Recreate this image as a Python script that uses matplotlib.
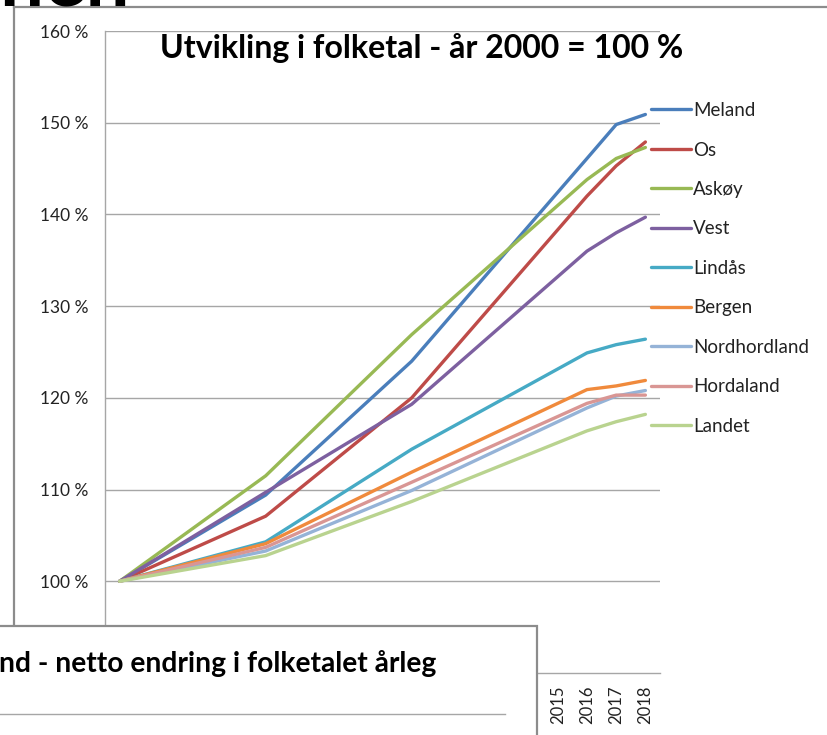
import matplotlib
matplotlib.use("Agg")
import matplotlib.pyplot as plt
from matplotlib.patches import Rectangle
from matplotlib.lines import Line2D

# ---------------- data ----------------
years = [2000, 2005, 2010, 2016, 2017, 2018]
series_names = ["Meland", "Os", "Askøy", "Vest", "Lindås", "Bergen",
                "Nordhordland", "Hordaland", "Landet"]
meland = [100, 109.4, 124.0, 146.1, 149.8, 150.9]
os_ = [100, 107.1, 120.0, 142.0, 145.3, 147.9]
askoy = [100, 111.5, 126.9, 143.8, 146.1, 147.3]
vest = [100, 109.7, 119.3, 136.0, 138.0, 139.7]
lindas = [100, 104.3, 114.4, 124.9, 125.8, 126.4]
bergen = [100, 104.1, 111.9, 120.9, 121.3, 121.9]
nordhordland = [100, 103.3, 109.9, 118.9, 120.2, 120.8]
hordaland = [100, 103.7, 110.8, 119.4, 120.3, 120.3]
landet = [100, 102.8, 108.7, 116.4, 117.4, 118.2]
series_values = [meland, os_, askoy, vest, lindas, bergen,
                 nordhordland, hordaland, landet]
all_years = list(range(2000, 2019))
y_ticks = [100, 110, 120, 130, 140, 150, 160]

title_top = "Utvikling i folketal - år 2000 = 100 %"
title_bottom_hidden = "Mela"
title_bottom = "nd - netto endring i folketalet årleg"
heading_fragment = "Regionen"

colors = ["#4A7EBB", "#BE4B48", "#98B954", "#7D60A0", "#46AAC5",
          "#F08A3C", "#95B3D7", "#D99694", "#B9D38F"]

W, H = 827, 735
fig = plt.figure(figsize=(W / 100, H / 100), dpi=100)
fig.patch.set_facecolor("white")


def fx(px):
    return px / W


def fy(py):
    return 1 - py / H


FONT = ["Lato", "DejaVu Sans"]
GRID = "#A6A6A6"
FRAME = "#8C8C8C"

# outer frame of the upper chart (left + top edges)
fig.add_artist(Line2D([fx(14), fx(14)], [fy(7), fy(640)], color=FRAME, lw=1.6, zorder=1))
fig.add_artist(Line2D([fx(14), fx(830)], [fy(7), fy(7)], color=FRAME, lw=1.6, zorder=1))

# big heading, mostly cut off at the top
fig.text(fx(130), fy(6), heading_fragment, ha="right", va="baseline",
         fontsize=56, fontweight="bold", family=FONT, color="black", zorder=2)

# ---------------- upper chart ----------------
ax = fig.add_axes([fx(105), fy(673), fx(660) - fx(105), fy(31) - fy(673)], zorder=2)
ax.set_facecolor("none")
for name, vals, c in zip(series_names, series_values, colors):
    ax.plot(years, vals, color=c, lw=2.4, label=name, solid_capstyle="round",
            solid_joinstyle="round")

ax.set_xlim(1999.5, 2018.5)
ax.set_ylim(90, 160)
ax.set_yticks(y_ticks)
ax.set_yticklabels([f"{v} %" for v in y_ticks], family=FONT, fontsize=12.5, color="#222222")
ax.set_xticks(all_years)
ax.set_xticklabels([str(y) for y in all_years], rotation=90, family=FONT,
                   fontsize=12, color="#222222")
ax.tick_params(axis="y", length=0, pad=12)
ax.tick_params(axis="x", length=0, pad=9)
for yv in y_ticks:
    ax.axhline(yv, color=GRID, lw=1.0, zorder=0)
for s in ["top", "right"]:
    ax.spines[s].set_visible(False)
ax.spines["left"].set_color(GRID)
ax.spines["bottom"].set_color(GRID)
ax.spines["left"].set_linewidth(1.0)
ax.spines["bottom"].set_linewidth(1.0)

leg = ax.legend(loc="upper left", bbox_to_anchor=(fx(651), fy(102)),
                bbox_transform=fig.transFigure, frameon=False,
                prop={"family": FONT, "size": 13.5}, handlelength=2.13,
                handletextpad=0.1, labelspacing=1.2, borderpad=0,
                borderaxespad=0)
for t in leg.get_texts():
    t.set_color("#222222")

# title of the upper chart, width fitted to the reference
t1 = fig.text(fx(422), fy(48), title_top, ha="center", va="center",
              fontsize=20, fontweight="bold", family=FONT, color="black", zorder=3)

# ---------------- lower (overlapping) chart ----------------
fig.add_artist(Rectangle((fx(-10), fy(745)), fx(537) - fx(-10), fy(626) - fy(745),
                         transform=fig.transFigure, facecolor="white",
                         edgecolor=FRAME, lw=1.6, zorder=10))
t2 = fig.text(fx(436), fy(672), title_bottom, ha="right", va="baseline",
              fontsize=20, fontweight="bold", family=FONT, color="black", zorder=11)
t2h = fig.text(fx(436), fy(672), title_bottom_hidden, ha="left", va="baseline",
               fontsize=20, fontweight="bold", family=FONT, color="black", zorder=11)
fig.add_artist(Line2D([fx(-5), fx(505)], [fy(714), fy(714)], color=GRID, lw=1.0, zorder=11))

fig.canvas.draw()
r = fig.canvas.get_renderer()
t1.set_fontsize(20 * 525 / t1.get_window_extent(r).width)
t2.set_fontsize(20 * 437 / t2.get_window_extent(r).width)
t2h.set_fontsize(t2.get_fontsize())
fig.canvas.draw()
# place the leading part of the lower title off the left edge (cut off as in the reference)
x_start = t2.get_window_extent(r).x0
w_hidden = t2h.get_window_extent(r).width
t2h.set_position((fx(x_start - w_hidden + 3), fy(672)))

fig.savefig("out.png", dpi=100)
